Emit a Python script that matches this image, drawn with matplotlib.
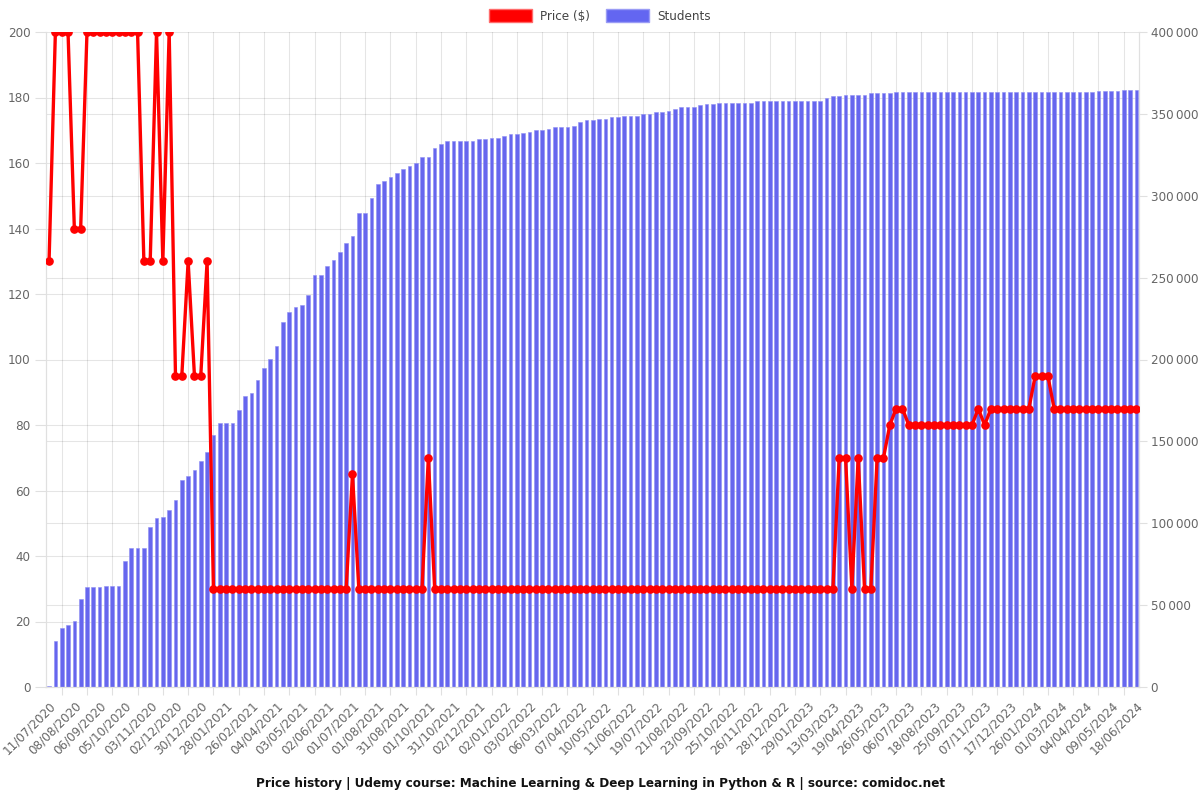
import matplotlib
matplotlib.use("Agg")
import matplotlib.pyplot as plt
from matplotlib.patches import Patch
from matplotlib.ticker import FixedLocator, FuncFormatter

# ---------------- data ----------------
tick_labels = [
    "11/07/2020", "08/08/2020", "06/09/2020", "05/10/2020", "03/11/2020", "02/12/2020",
    "30/12/2020", "28/01/2021", "26/02/2021", "04/04/2021", "03/05/2021", "02/06/2021",
    "01/07/2021", "01/08/2021", "31/08/2021", "01/10/2021", "31/10/2021", "02/12/2021",
    "02/01/2022", "03/02/2022", "06/03/2022", "07/04/2022", "10/05/2022", "11/06/2022",
    "19/07/2022", "21/08/2022", "23/09/2022", "25/10/2022", "26/11/2022", "28/12/2022",
    "29/01/2023", "13/03/2023", "19/04/2023", "26/05/2023", "06/07/2023", "18/08/2023",
    "25/09/2023", "07/11/2023", "17/12/2023", "26/01/2024", "01/03/2024", "04/04/2024",
    "09/05/2024", "18/06/2024",
]

price = [
    130, 200, 200, 200, 140, 140, 200, 200, 200, 200,
    200, 200, 200, 200, 200, 130, 130, 200, 130, 200,
    95, 95, 130, 95, 95, 130, 30, 30, 30, 30,
    30, 30, 30, 30, 30, 30, 30, 30, 30, 30,
    30, 30, 30, 30, 30, 30, 30, 30, 65, 30,
    30, 30, 30, 30, 30, 30, 30, 30, 30, 30,
    70, 30, 30, 30, 30, 30, 30, 30, 30, 30,
    30, 30, 30, 30, 30, 30, 30, 30, 30, 30,
    30, 30, 30, 30, 30, 30, 30, 30, 30, 30,
    30, 30, 30, 30, 30, 30, 30, 30, 30, 30,
    30, 30, 30, 30, 30, 30, 30, 30, 30, 30,
    30, 30, 30, 30, 30, 30, 30, 30, 30, 30,
    30, 30, 30, 30, 30, 70, 70, 30, 70, 30,
    30, 70, 70, 80, 85, 85, 80, 80, 80, 80,
    80, 80, 80, 80, 80, 80, 80, 85, 80, 85,
    85, 85, 85, 85, 85, 85, 95, 95, 95, 85,
    85, 85, 85, 85, 85, 85, 85, 85, 85, 85,
    85, 85, 85,
]

students = [
    600, 28300, 35800, 37600, 40400, 53800, 61000, 61000, 61300, 61500,
    61500, 61500, 77200, 84600, 84600, 84800, 98000, 103000, 103600, 108200,
    114200, 126200, 128800, 132800, 137800, 143400, 153800, 161000, 161300, 161500,
    169200, 177800, 179800, 187200, 194800, 200200, 208200, 222800, 229000, 232000,
    233000, 239400, 251400, 251400, 257200, 260800, 265800, 271400, 275600, 289400,
    289400, 298800, 307000, 309000, 311600, 314000, 316400, 318000, 320200, 323600,
    323600, 329400, 331800, 333200, 333200, 333200, 333200, 333200, 334600, 334600,
    335400, 335400, 336400, 337600, 337600, 338600, 338800, 340000, 340000, 340800,
    341800, 341800, 341800, 342800, 344800, 346000, 346000, 346800, 346800, 347800,
    347800, 348800, 348800, 348800, 350000, 350000, 351000, 351000, 352000, 353000,
    354000, 354000, 354000, 355200, 356000, 356000, 356400, 356400, 356400, 356400,
    356400, 356400, 357600, 357600, 357600, 357600, 357600, 357600, 357600, 357600,
    357600, 357600, 357600, 359600, 361000, 361000, 361800, 361800, 361800, 361800,
    363000, 363000, 363000, 363000, 363200, 363200, 363200, 363200, 363200, 363200,
    363200, 363200, 363200, 363200, 363200, 363200, 363200, 363200, 363200, 363200,
    363200, 363600, 363600, 363600, 363600, 363600, 363600, 363600, 363600, 363600,
    363600, 363600, 363600, 363600, 363600, 363600, 364000, 364000, 364000, 364000,
    364400, 364400, 364400,
]

title = "Price history | Udemy course: Machine Learning & Deep Learning in Python & R | source: comidoc.net"

# ---------------- figure ----------------
W, H = 1200, 800
fig = plt.figure(figsize=(W / 100, H / 100), dpi=100)
left_px, right_px, top_px, bot_px = 45.9, 1139.5, 32, 687
rect = [left_px / W, 1 - bot_px / H, (right_px - left_px) / W, (bot_px - top_px) / H]
ax = fig.add_axes(rect)
ax2 = ax.twinx()

FS = 8.64  # 12 px
x = list(range(len(price)))
bar_color = "#6666ee"
line_color = "#ff0000"
grid_kw = dict(color="black", alpha=0.1, linewidth=0.8)
tick_gray = "#666666"

ax2.bar(x, students, width=0.58, color=bar_color, edgecolor="#8f8ff3", linewidth=0.4, zorder=2)
ax.plot(x, price, color=line_color, linewidth=2.4, marker="o", markersize=5.2, zorder=3)

ax.set_zorder(ax2.get_zorder() + 1)
ax.patch.set_visible(False)

n = len(price)
ax.set_xlim(-0.5, n - 0.5)
ax.set_ylim(0, 200)
ax2.set_ylim(0, 400000)

# x ticks: labels every 4th category; grid lines halfway between shown labels
major_pos = list(range(0, n, 4))
minor_pos = list(range(2, n - 1, 4))
ax.set_xticks(major_pos)
ax.set_xticklabels(tick_labels[:len(major_pos)], rotation=45, ha="right",
                   rotation_mode="anchor", fontsize=FS, color=tick_gray)
ax.set_xticks(minor_pos, minor=True)
ax.tick_params(axis="x", which="major", length=0, pad=9)
ax.tick_params(axis="x", which="minor", length=6, color="#e0e0e0", width=0.8)

# left y axis
left_ticks = list(range(0, 201, 20))
ax.set_yticks(left_ticks)
ax.tick_params(axis="y", which="major", length=8, color="#e0e0e0", width=0.8,
               labelsize=FS, labelcolor=tick_gray, pad=3)

# right y axis
right_ticks = list(range(0, 400001, 50000))
ax2.set_yticks(right_ticks)
ax2.yaxis.set_major_formatter(FuncFormatter(
    lambda v, p: "{:,}".format(int(v)).replace(",", "\u2009")))
ax2.tick_params(axis="y", which="major", length=6, color="#e0e0e0", width=0.8,
                labelsize=FS, labelcolor=tick_gray, pad=2)
# left-axis grid lines drawn behind the bars, at the left tick positions
ax2.yaxis.set_minor_locator(FixedLocator([t * 400000 / 200 for t in left_ticks]))
ax2.tick_params(axis="y", which="minor", length=0)

ax2.xaxis.set_visible(True)
ax2.tick_params(axis="x", which="both", bottom=False, top=False,
                labelbottom=False, labeltop=False)

ax.grid(False)
ax2.grid(True, axis="y", which="major", **grid_kw)
ax2.grid(True, axis="y", which="minor", **grid_kw)
ax2.grid(True, axis="x", which="minor", **grid_kw)
ax2.set_axisbelow(True)

for a in (ax, ax2):
    for s in a.spines.values():
        s.set_color("#e0e0e0")
        s.set_linewidth(0.8)
    a.spines["top"].set_visible(False)

# legend
handles = [
    Patch(facecolor=line_color, edgecolor="#ff6b6b", linewidth=1, label="Price ($)"),
    Patch(facecolor="#6366f1", edgecolor="#9a9cf5", linewidth=1, label="Students"),
]
fig.legend(handles=handles, loc="center", bbox_to_anchor=(0.5, 1 - 16 / H), ncol=2,
           frameon=False, fontsize=FS, handlelength=3.6, handleheight=1.2,
           handletextpad=0.7, columnspacing=1.3, labelcolor="#444444")

fig.text(0.5, 1 - 783 / H, title, ha="center", va="center", fontsize=FS,
         fontweight="bold", color="#111111")

fig.savefig("out.png", dpi=100)
